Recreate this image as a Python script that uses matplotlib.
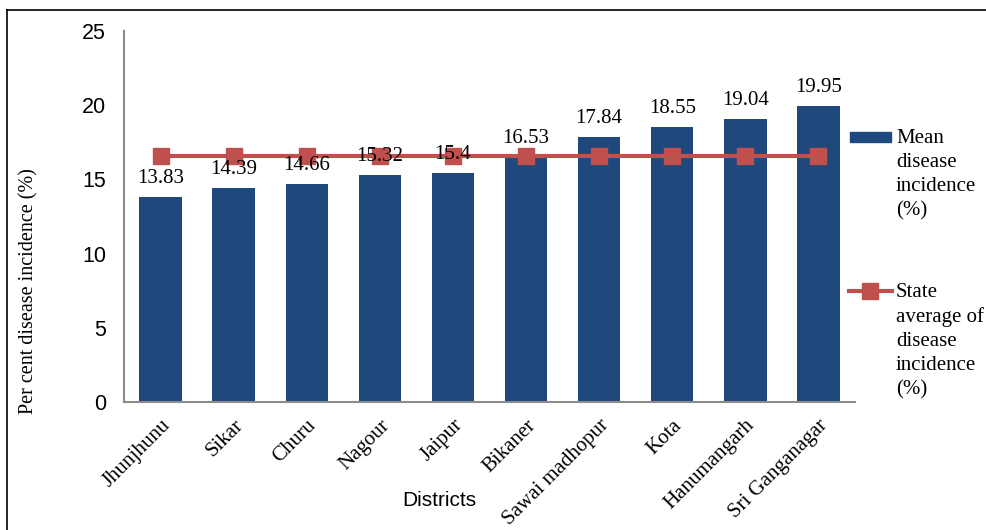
import matplotlib.pyplot as plt
from matplotlib.patches import Rectangle
from matplotlib.lines import Line2D

districts = ["Jhunjhunu", "Sikar", "Churu", "Nagour", "Jaipur", "Bikaner",
             "Sawai madhopur", "Kota", "Hanumangarh", "Sri Ganganagar"]
mean_incidence = [13.83, 14.39, 14.66, 15.32, 15.4, 16.53, 17.84, 18.55, 19.04, 19.95]
state_average = [16.55] * len(districts)
yticks = [0, 5, 10, 15, 20, 25]
legend_labels = ["Mean\ndisease\nincidence\n(%)",
                 "State\naverage of\ndisease\nincidence\n(%)"]

BAR = "#1f497d"
LINE = "#c0504d"
SERIF = "Liberation Serif"
SANS = "Liberation Sans"

W, H = 987, 530
fig = plt.figure(figsize=(W / 100, H / 100), dpi=100)
ax = fig.add_axes([124 / W, 1 - 402 / H, 731 / W, 371 / H])

x = range(len(districts))
ax.bar(x, mean_incidence, width=0.58, color=BAR, zorder=2)
ax.plot(x, state_average, color=LINE, lw=3, marker="s", ms=12,
        mfc=LINE, mec=LINE, zorder=3)

for xi, v in zip(x, mean_incidence):
    ax.annotate(f"{v:g}", (xi, v), xytext=(0, 6.5), textcoords="offset points",
                ha="center", va="bottom", fontsize=15, family=SERIF, zorder=4)

ax.set_xlim(-0.5, len(districts) - 0.5)
ax.set_ylim(0, 25)
ax.set_yticks(yticks)
ax.set_yticklabels([str(t) for t in yticks], family=SANS, fontsize=15.5)
ax.set_xticks(list(x))
ax.set_xticklabels(districts, rotation=45, ha="right", rotation_mode="anchor",
                   family=SERIF, fontsize=15)
ax.tick_params(axis="both", length=0)
ax.tick_params(axis="y", pad=13)
ax.tick_params(axis="x", pad=10)

for s in ["top", "right"]:
    ax.spines[s].set_visible(False)
for s in ["left", "bottom"]:
    ax.spines[s].set_color("#8c8c8c")
    ax.spines[s].set_linewidth(1.5)

ax.set_ylabel("Per cent disease incidence (%)", family=SERIF, fontsize=14.5)
ax.yaxis.set_label_coords(-0.117, 0.30)
ax.set_xlabel("Districts", family=SANS, fontsize=15)
ax.xaxis.set_label_coords(0.431, -0.24)

# legend drawn by hand so the key sits beside the first line of text
def fx(px):
    return px / W

def fy(py):
    return 1 - py / H

fig.patches.append(Rectangle((fx(850), fy(142)), fx(41), 10 / H, color=BAR,
                             transform=fig.transFigure))
fig.lines.append(Line2D([fx(849), fx(892)], [fy(291), fy(291)], color=LINE, lw=3,
                        transform=fig.transFigure))
fig.lines.append(Line2D([fx(870)], [fy(291)], color=LINE, marker="s", ms=12, lw=0,
                        transform=fig.transFigure))
for label, ytop in zip(legend_labels, [129, 283]):
    fig.text(fx(896), fy(ytop), label, family=SERIF, fontsize=15,
             ha="left", va="top", linespacing=1.36)

# frame fragments of the original figure border (top and left)
fig.lines.append(Line2D([fx(7), fx(7)], [fy(10), 0], color="black", lw=1.2,
                        transform=fig.transFigure))
fig.lines.append(Line2D([fx(7), 1], [fy(10), fy(10)], color="black", lw=1.2,
                        transform=fig.transFigure))

fig.savefig("out.png", dpi=100)
